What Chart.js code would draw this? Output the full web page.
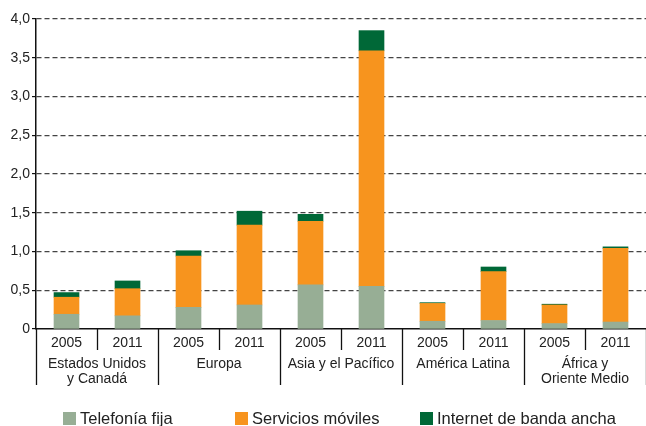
<!DOCTYPE html>
<html>
<head>
<meta charset="utf-8">
<script src="https://cdn.jsdelivr.net/npm/chart.js@4/dist/chart.umd.min.js"></script>
<style>
  html, body { margin: 0; padding: 0; background: #fff; }
  #wrap { width: 646px; height: 426px; }
</style>
</head>
<body>
<div id="wrap"><canvas id="barChart" width="646" height="426"></canvas></div>
<script>
// years on the x axis, two per region
var years = ['2005', '2011', '2005', '2011', '2005', '2011', '2005', '2011', '2005', '2011'];
var regions = [['Estados Unidos', 'y Canadá'], ['Europa'], ['Asia y el Pacífico'], ['América Latina'], ['África y', 'Oriente Medio']];

// values
var telefoniaFija = [0.19, 0.17, 0.28, 0.31, 0.57, 0.55, 0.10, 0.11, 0.07, 0.09];
var serviciosMoviles = [0.22, 0.35, 0.66, 1.03, 0.82, 3.04, 0.23, 0.63, 0.24, 0.95];
var bandaAncha = [0.06, 0.10, 0.07, 0.18, 0.09, 0.26, 0.01, 0.06, 0.01, 0.02];

var FONT = 'Liberation Sans, Arial, Helvetica, sans-serif';
var TEXT = '#222';

// separators, region names and legend drawn under the x axis
var extrasPlugin = {
  id: 'extras',
  afterDraw: function (chart) {
    var ctx = chart.ctx;
    var x = chart.scales.x;
    var bottom = chart.chartArea.bottom;
    var step = x.getPixelForValue(1) - x.getPixelForValue(0);
    ctx.save();
    ctx.strokeStyle = '#111';
    ctx.lineWidth = 1.3;
    for (var i = 0; i <= years.length; i++) {
      var px = Math.round(x.getPixelForValue(0) - step / 2 + i * step) + 0.5;
      var long = i % 2 === 0;
      ctx.beginPath();
      ctx.moveTo(px, bottom);
      ctx.lineTo(px, bottom + (long ? 56 : 21));
      ctx.stroke();
    }
    ctx.fillStyle = TEXT;
    ctx.font = '14px ' + FONT;
    ctx.textAlign = 'center';
    ctx.textBaseline = 'middle';
    regions.forEach(function (lines, r) {
      var cx = (x.getPixelForValue(r * 2) + x.getPixelForValue(r * 2 + 1)) / 2;
      lines.forEach(function (t, k) {
        ctx.fillText(t, cx, bottom + 35 + k * 15);
      });
    });
    // legend
    var lx = [63, 235, 420];
    ctx.font = '16.5px ' + FONT;
    ctx.textAlign = 'left';
    chart.data.datasets.forEach(function (ds, k) {
      ctx.fillStyle = ds.backgroundColor;
      ctx.fillRect(lx[k], 412, 13, 13);
      ctx.fillStyle = TEXT;
      ctx.fillText(ds.label, lx[k] + 17, 419);
    });
    ctx.restore();
  }
};

var ctx_bar = document.getElementById('barChart').getContext('2d');

var myBarChart = new Chart(ctx_bar, {
  type: 'bar',
  data: {
    labels: years,
    datasets: [
      {label: 'Telefonía fija', data: telefoniaFija, backgroundColor: '#97ae95'},
      {label: 'Servicios móviles', data: serviciosMoviles, backgroundColor: '#f7941e'},
      {label: 'Internet de banda ancha', data: bandaAncha, backgroundColor: '#006837'}
    ]
  },
  options: {
    responsive: false,
    animation: false,
    layout: {padding: {top: 19, right: 0, left: 0, bottom: 0}},
    datasets: {bar: {barThickness: 25, borderWidth: 0}},
    plugins: {legend: {display: false}, tooltip: {enabled: false}},
    scales: {
      x: {
        stacked: true,
        grid: {display: false},
        border: {display: true, color: '#111', width: 1.5},
        ticks: {color: TEXT, font: {family: FONT, size: 14}, padding: -2, maxRotation: 0},
        afterFit: function (scale) { scale.height = 97; }
      },
      y: {
        stacked: true,
        min: 0,
        max: 4,
        ticks: {
          stepSize: 0.5,
          color: TEXT,
          font: {family: FONT, size: 14},
          padding: 2,
          callback: function (v) { return v === 0 ? '0' : v.toFixed(1).replace('.', ','); }
        },
        grid: {
          color: function (c) { return c.tick.value === 0 ? 'rgba(0,0,0,0)' : '#444'; },
          lineWidth: 1.2,
          tickLength: 4,
          tickColor: '#111',
          tickBorderDash: []
        },
        border: {display: true, color: '#111', width: 1.5, dash: [5, 3]},
        afterFit: function (scale) { scale.width = 36; }
      }
    }
  },
  plugins: [extrasPlugin]
});
</script>
</body>
</html>
